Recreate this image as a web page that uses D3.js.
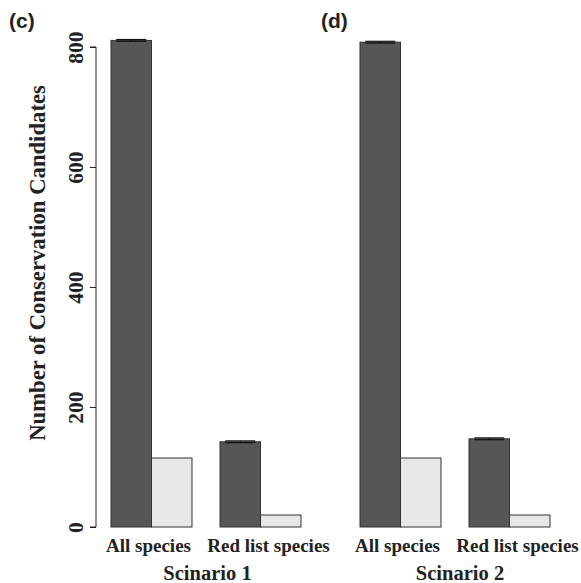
<!DOCTYPE html>
<html><head><meta charset="utf-8">
<script src="https://cdn.jsdelivr.net/npm/d3@7"></script>
<style>body{margin:0;background:#fff}</style>
</head><body>
<svg id="c" width="581" height="583"></svg>
<script>
const groups = ["All species", "Red list species"];
const subBars = ["dark", "light"];
const scenarios = ["Scinario 1", "Scinario 2"];
const panelLabels = ["(c)", "(d)"];
const s1Dark = [811, 142];
const s1Light = [115, 20];
const s1DarkErr = [1.5, 1.5];
const s2Dark = [808, 147];
const s2Light = [115, 20];
const s2DarkErr = [1.5, 1.5];
const yTicks = [0, 200, 400, 600, 800];
const yTitle = "Number of Conservation Candidates";

const svg = d3.select("#c");
const y = d3.scaleLinear().domain([0, 800]).range([527, 47]);
const serif = "'Liberation Serif','Times New Roman',serif";
const labelNudge = [-3, 8];

const panels = [
  {range: [97, 315], dark: s1Dark, light: s1Light, err: s1DarkErr, label: panelLabels[0], lx: 9, scen: scenarios[0], sdx: 1.5, axis: true},
  {range: [346, 564], dark: s2Dark, light: s2Light, err: s2DarkErr, label: panelLabels[1], lx: 321, scen: scenarios[1], sdx: 5, axis: false}
];

panels.forEach(p => {
  const x0 = d3.scaleBand().domain(groups).range(p.range).paddingInner(0.257).paddingOuter(0.1285);
  const x1 = d3.scaleBand().domain(subBars).range([0, x0.bandwidth()]);
  const g = svg.append("g");
  groups.forEach((grp, i) => {
    const vals = {dark: p.dark[i], light: p.light[i]};
    subBars.forEach(sb => {
      g.append("rect")
        .attr("x", x0(grp) + x1(sb))
        .attr("y", y(vals[sb]))
        .attr("width", x1.bandwidth())
        .attr("height", y(0) - y(vals[sb]))
        .attr("fill", sb === "dark" ? "#555657" : "#e6e7e8")
        .attr("stroke", "#333")
        .attr("stroke-width", 1);
    });
    const cx = x0(grp) + x1("dark") + x1.bandwidth() / 2;
    const hw = x1.bandwidth() * 0.37;
    const top = y(p.dark[i] + p.err[i]), bot = y(p.dark[i] - p.err[i]);
    g.append("line").attr("x1", cx).attr("x2", cx).attr("y1", top).attr("y2", bot).attr("stroke", "#111").attr("stroke-width", 1);
    g.append("line").attr("x1", cx - hw).attr("x2", cx + hw).attr("y1", top).attr("y2", top).attr("stroke", "#111").attr("stroke-width", 1.2);
    g.append("line").attr("x1", cx - hw).attr("x2", cx + hw).attr("y1", bot).attr("y2", bot).attr("stroke", "#111").attr("stroke-width", 1.2);
    g.append("text").attr("x", x0(grp) + x0.bandwidth() / 2 + labelNudge[i]).attr("y", 552)
      .attr("text-anchor", "middle").attr("font-family", serif).attr("font-weight", "bold")
      .attr("font-size", 19).attr("fill", "#222").text(grp);
  });
  g.append("text").attr("x", (p.range[0] + p.range[1]) / 2 + p.sdx).attr("y", 580)
    .attr("text-anchor", "middle").attr("font-family", serif).attr("font-weight", "bold")
    .attr("font-size", 20.5).attr("fill", "#222").text(p.scen);
  g.append("text").attr("x", p.lx).attr("y", 28)
    .attr("font-family", "'Liberation Sans',Arial,sans-serif").attr("font-weight", "bold")
    .attr("font-size", 21).attr("fill", "#222").text(p.label);
  if (p.axis) {
    const ax = svg.append("g").attr("transform", "translate(96,0)")
      .call(d3.axisLeft(y).tickValues(yTicks).tickSize(6).tickPadding(7).tickFormat(d3.format("d")));
    ax.select(".domain").attr("stroke", "#222").attr("d", `M-6,${y(800)}H0V${y(0)}H-6`);
    ax.selectAll(".tick line").attr("stroke", "#222");
    ax.selectAll(".tick text")
      .attr("font-family", serif).attr("font-weight", "bold").attr("font-size", 21.5).attr("fill", "#222")
      .attr("text-anchor", "middle").attr("x", 0).attr("dy", 0)
      .attr("transform", "translate(-13,0) rotate(-90)");
    svg.append("text").attr("transform", `translate(45,263) rotate(-90)`)
      .attr("text-anchor", "middle").attr("font-family", serif).attr("font-weight", "bold")
      .attr("font-size", 22.7).attr("fill", "#222").text(yTitle);
  }
});
</script>
</body></html>
